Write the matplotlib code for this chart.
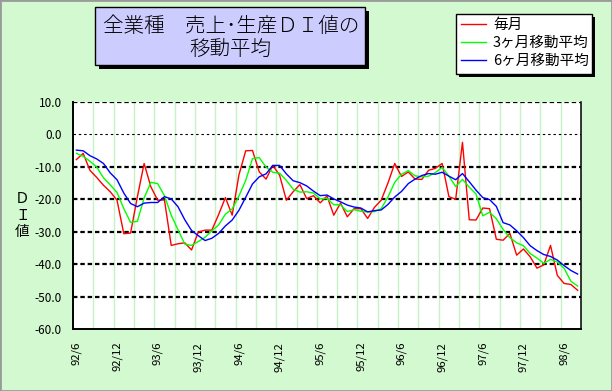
import matplotlib
matplotlib.use("Agg")
import matplotlib.pyplot as plt
from matplotlib.patches import Rectangle

plt.rcParams['font.family'] = ['Noto Sans CJK JP', 'DejaVu Sans']

# ---- data -------------------------------------------------------------
tick_labels = ["92/6", "92/12", "93/6", "93/12", "94/6", "94/12", "95/6",
               "95/12", "96/6", "96/12", "97/6", "97/12", "98/6"]

monthly = [-7.8, -5.9, -11.1, -13.3, -15.7, -17.7, -20.3, -30.6, -30.4, -19.3,
           -9.0, -16.2, -20.3, -20.2, -34.2, -33.7, -33.4, -35.6, -30.1, -29.5,
           -29.5, -24.7, -19.5, -24.9, -12.5, -5.1, -5.0, -11.6, -13.8, -9.6,
           -12.6, -20.3, -17.7, -15.5, -19.8, -18.9, -21.1, -19.0, -24.9, -21.2,
           -25.4, -22.9, -22.9, -25.9, -22.5, -20.3, -15.0, -9.0, -13.0, -11.6,
           -13.8, -13.9, -11.1, -10.5, -9.0, -19.2, -20.0, -2.5, -26.3, -26.4,
           -22.7, -22.9, -32.3, -32.6, -30.5, -37.2, -35.3, -37.7, -41.2, -40.2,
           -34.2, -43.4, -45.9, -46.2, -48.0]

ma3 = [-5.9, -6.8, -8.3, -10.1, -13.4, -15.6, -17.9, -22.9, -27.1, -26.8,
       -19.6, -14.8, -15.2, -18.9, -24.9, -29.4, -33.8, -34.2, -33.0, -31.7,
       -29.7, -27.9, -24.6, -23.0, -19.0, -14.2, -7.5, -7.2, -10.1, -11.7,
       -12.0, -14.2, -16.9, -17.8, -17.7, -18.1, -19.9, -19.7, -21.7, -21.7,
       -23.8, -23.2, -23.7, -23.9, -23.8, -22.9, -19.3, -14.8, -12.3, -11.2,
       -12.8, -13.1, -12.9, -11.8, -10.2, -12.9, -16.1, -13.9, -16.3, -18.4,
       -25.1, -24.0, -26.0, -29.3, -31.8, -33.4, -34.3, -36.7, -38.1, -39.7,
       -38.5, -39.3, -41.2, -45.2, -46.7]

ma6 = [-4.9, -5.1, -6.6, -7.6, -9.0, -11.9, -14.0, -18.1, -21.3, -22.3,
       -21.2, -21.0, -21.0, -19.2, -19.9, -22.3, -26.3, -29.6, -31.2, -32.7,
       -32.0, -30.5, -28.2, -26.4, -23.4, -19.4, -15.3, -13.1, -12.2, -9.6,
       -9.6, -12.2, -14.3, -14.9, -15.9, -17.5, -18.9, -18.7, -19.9, -20.8,
       -21.8, -22.4, -22.7, -23.9, -23.5, -23.3, -21.6, -19.3, -17.6, -15.2,
       -13.8, -12.7, -12.1, -12.3, -11.7, -12.9, -14.0, -12.1, -14.6, -17.2,
       -19.5, -20.1, -22.2, -27.2, -27.9, -29.7, -31.8, -34.3, -35.8, -37.0,
       -37.6, -38.7, -40.4, -41.9, -43.0]

series_names = ["毎月", "3ヶ月移動平均", "6ヶ月移動平均"]
y_ticks = [10, 0, -10, -20, -30, -40, -50, -60]

# ---- figure -------------------------------------------------------------
W, H = 612, 391
BG = '#d3f9d0'
fig = plt.figure(figsize=(W / 100, H / 100), dpi=100, facecolor=BG)


def fx(px):
    return px / W


def fy(py):
    return 1 - py / H


L, R, T, B = 73, 581, 101.7, 329.3
ax = fig.add_axes([fx(L), fy(B), fx(R - L), (B - T) / H])
ax.set_facecolor('white')

n = len(monthly)
x = list(range(n))
ax.set_xlim(-0.5, n - 0.5)
ax.set_ylim(-60, 10)

# vertical light-green gridlines every 3 months
for k in range(1, n // 3):
    ax.axvline(-0.5 + 3 * k, color='#c6f3c6', lw=1.0, zorder=0.5)

# horizontal dashed gridlines
for v in [10, -10, -20, -30, -40, -50]:
    ax.axhline(v, color='black', lw=1.6, ls=(0, (2.0, 1.3)), zorder=1)
ax.axhline(0, color='black', lw=0.8, ls=(0, (2.2, 2.6)), zorder=1)

l1, = ax.plot(x, monthly, color='#ff0000', lw=1.0, zorder=3, label=series_names[0])
l2, = ax.plot(x, ma3, color='#00ff00', lw=1.0, zorder=3, label=series_names[1])
l3, = ax.plot(x, ma6, color='#0000ff', lw=1.0, zorder=3, label=series_names[2])

for s in ['left', 'bottom', 'right']:
    ax.spines[s].set_color('black')
    ax.spines[s].set_linewidth(1.4)
ax.spines['right'].set_linewidth(1.1)
ax.spines['top'].set_visible(False)

ax.set_yticks(y_ticks)
ax.set_yticklabels([f"{v:.1f}" for v in y_ticks])
ax.set_xticks(list(range(0, n, 6)))
ax.set_xticklabels(tick_labels, rotation=90)
ax.tick_params(axis='y', length=0, pad=8, labelsize=8.5)
ax.tick_params(axis='x', length=0, pad=9, labelsize=8.2)

# y axis label (stacked characters)
for ch, py in zip(["Ｄ", "Ｉ", "値"], [199, 216, 232]):
    fig.text(fx(22.5), fy(py), ch, ha='center', va='center', fontsize=10.5)

# title box with shadow
tx0, ty0, tw, th = 95, 7.5, 270, 57.5
fig.patches.append(Rectangle((fx(tx0 + 4), fy(ty0 + th + 4)), fx(tw), th / H,
                             transform=fig.transFigure, facecolor='black',
                             edgecolor='none', zorder=1))
fig.patches.append(Rectangle((fx(tx0), fy(ty0 + th)), fx(tw), th / H,
                             transform=fig.transFigure, facecolor='#ccccff',
                             edgecolor='black', lw=1.0, zorder=2))
fig.text(fx(231), fy(27), "全業種　売上･生産ＤＩ値の", ha='center', va='center',
         fontsize=14.8, fontweight='light', zorder=3)
fig.text(fx(230), fy(49), "移動平均", ha='center', va='center',
         fontsize=14.8, fontweight='light', zorder=3)

# legend box with shadow
lx0, ly0, lw_, lh = 456, 14, 136, 60
fig.patches.append(Rectangle((fx(lx0 + 3), fy(ly0 + lh + 3)), fx(lw_), lh / H,
                             transform=fig.transFigure, facecolor='black',
                             edgecolor='none', zorder=1))
fig.patches.append(Rectangle((fx(lx0), fy(ly0 + lh)), fx(lw_), lh / H,
                             transform=fig.transFigure, facecolor='white',
                             edgecolor='black', lw=1.0, zorder=2))
leg = fig.legend(handles=[l1, l2, l3], labels=series_names,
                 loc='upper left', bbox_to_anchor=(fx(458), fy(15)),
                 frameon=False, fontsize=10.5, handlelength=1.75,
                 handletextpad=0.45, labelspacing=0.28, borderpad=0.2,
                 borderaxespad=0)
leg.set_zorder(4)

# outer grey frame
fig.patches.append(Rectangle((0, 0), 1, 1, transform=fig.transFigure,
                             fill=False, edgecolor='#9a9a9a', lw=2.0, zorder=5))

fig.savefig("out.png", dpi=100, facecolor=BG)
